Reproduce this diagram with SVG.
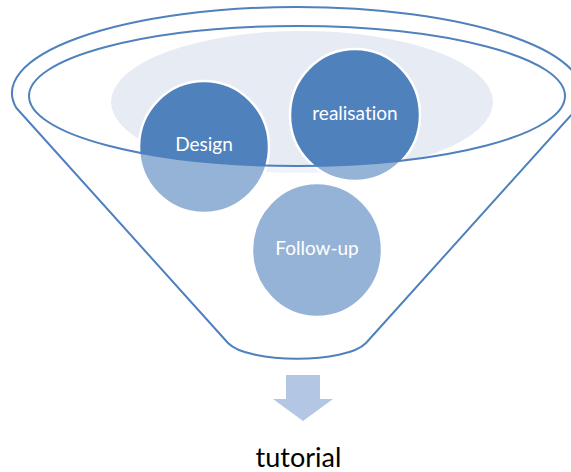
<svg xmlns="http://www.w3.org/2000/svg" width="571" height="472" viewBox="0 0 571 472">
  <style>
    .stage { fill: #4f81bd; stroke: #ffffff; stroke-width: 2.5; }
    .label { font-family: Lato, "Liberation Sans", sans-serif; font-size: 19px; fill: #ffffff; text-anchor: middle; font-variant-ligatures: none; }
    .rim { fill: none; stroke: #4f81bd; stroke-width: 2; stroke-linejoin: round; }
  </style>
  <rect width="571" height="472" fill="#ffffff"/>

  <!-- funnel mouth background -->
  <ellipse id="mouth" cx="302" cy="102" rx="191" ry="71" fill="#e6ebf4"/>

  <!-- stages -->
  <g id="design">
    <ellipse class="stage" cx="204" cy="147" rx="65" ry="66"/>
  </g>
  <g id="realisation">
    <ellipse class="stage" cx="355" cy="115" rx="65" ry="66"/>
  </g>
  <g id="follow-up">
    <ellipse class="stage" cx="317" cy="250" rx="65" ry="67"/>
  </g>

  <!-- translucent funnel body over the stages (outside the inner rim) -->
  <path fill="#ffffff" fill-opacity="0.4" fill-rule="evenodd"
        d="M16.4,108 A285,86 0 1 1 577.6,108 L366,343 C346,364 248,364 228,343 Z
           M29,96 A268,70 0 1 0 565,96 A268,70 0 1 0 29,96 Z"/>

  <!-- labels -->
  <text class="label" x="204" y="151">Design</text>
  <text class="label" x="355" y="120">realisation</text>
  <text class="label" x="317" y="255">Follow-up</text>

  <!-- funnel outline -->
  <g id="funnel">
    <path class="rim" d="M16.4,108 A285,86 0 1 1 577.6,108 L366,343 C346,364 248,364 228,343 Z"/>
    <ellipse class="rim" cx="297" cy="96" rx="268" ry="70"/>
  </g>

  <!-- output arrow and result -->
  <g id="connectors">
    <polygon points="286,375 320,375 320,399 333,399 303,421 273,399 286,399" fill="#b3c6e3"/>
  </g>
  <g id="tutorial">
    <text x="298.5" y="467" font-family="Lato, 'Liberation Sans', sans-serif" font-size="27" fill="#000000" text-anchor="middle">tutorial</text>
  </g>
</svg>
